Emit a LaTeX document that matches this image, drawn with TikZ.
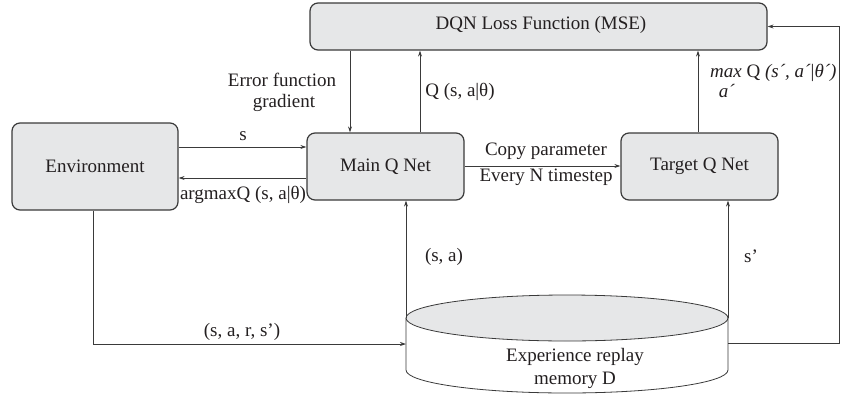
\documentclass[tikz,border=0pt]{standalone}
\usepackage{fontspec}
\setmainfont{Liberation Serif}
\usetikzlibrary{arrows.meta}
\definecolor{boxfill}{HTML}{E6E7E8}
\definecolor{ink}{HTML}{231F20}
\definecolor{wire}{HTML}{3A3A3A}
\begin{document}
\begin{tikzpicture}[x=1pt,y=-1pt,
  every node/.style={text=ink,font=\fontsize{19}{22}\selectfont,inner sep=0pt},
  block/.style={draw=wire,line width=1.2pt,fill=boxfill,rounded corners=8pt},
  arr/.style={draw=wire,line width=0.8pt,-{Stealth[length=6pt,width=4pt]}},
  wireline/.style={draw=wire,line width=0.8pt},
  lbl/.style={anchor=center}]
\useasboundingbox (0,0) rectangle (846,394);

% main blocks
\node[block,minimum width=457pt,minimum height=47pt] (dqn) at (538.5,26.5) {};
\node[lbl] (dqnt) at (541,25) {DQN Loss Function (MSE)};
\node[block,minimum width=166pt,minimum height=87pt] (env) at (95,166.5) {Environment};
\node[block,minimum width=157pt,minimum height=67pt] (main) at (385.5,166.5) {Main Q Net};
\node[block,minimum width=157pt,minimum height=67pt] (target) at (699.5,166.5) {Target Q Net};

% replay memory cylinder
\draw[wireline,fill=white] (406,318) -- (406,370)
  arc[start angle=180,end angle=0,x radius=161,y radius=23] -- (728,318);
\draw[wireline,fill=boxfill] (567,318) ellipse[x radius=161,y radius=23];
\node[lbl] (mem1) at (575,357) {Experience replay};
\node[lbl] (mem2) at (575,380) {memory D};
\coordinate (memL) at (406,318);
\coordinate (memR) at (728,318);
\coordinate (memIn) at (406,344);
\coordinate (memOut) at (728,343);

% connectors
\draw[arr] (dqn.south -| 350,0) -- (main.north -| 350,0);
\draw[arr] (main.north -| 420,0) -- (dqn.south -| 420,0);
\draw[arr] (target.north -| 698,0) -- (dqn.south -| 698,0);
\draw[arr] (env.east |- 0,147) -- (main.west |- 0,147);
\draw[arr] (main.west |- 0,178) -- (env.east |- 0,178);
\draw[arr] (main.east |- 0,166) -- (target.west |- 0,166);
\draw[arr] (memL) -- (main.south -| memL);
\draw[arr] (memR) -- (target.south -| memR);
\draw[arr] (env.south -| 93,0) |- (memIn);
\draw[arr] (memOut) -- (memOut -| 839,0) |- (dqn.east);

% connector labels
\node[lbl] (errA) at (282,80) {Error function};
\node[lbl] (errB) at (284,103) {gradient};
\node[lbl] (qmain) at (460,92) {Q (s, a|θ)};
\node[lbl,anchor=west] (qtgt) at (710,73) {\textit{max} Q \textit{(s´, a´}|\textit{θ´)}};
\node[lbl] (qsub) at (727,91) {\textit{a´}};
\node[lbl] (sin) at (243,136) {s};
\node[lbl] (aout) at (243,195) {argmaxQ (s, a|θ)};
\node[lbl] (cpA) at (546,151) {Copy parameter};
\node[lbl] (cpB) at (546,177) {Every N timestep};
\node[lbl] (sa) at (444,257) {(s, a)};
\node[lbl] (sp) at (751,256) {s’};
\node[lbl] (tr) at (242,332) {(s, a, r, s’)};
\end{tikzpicture}
\end{document}
